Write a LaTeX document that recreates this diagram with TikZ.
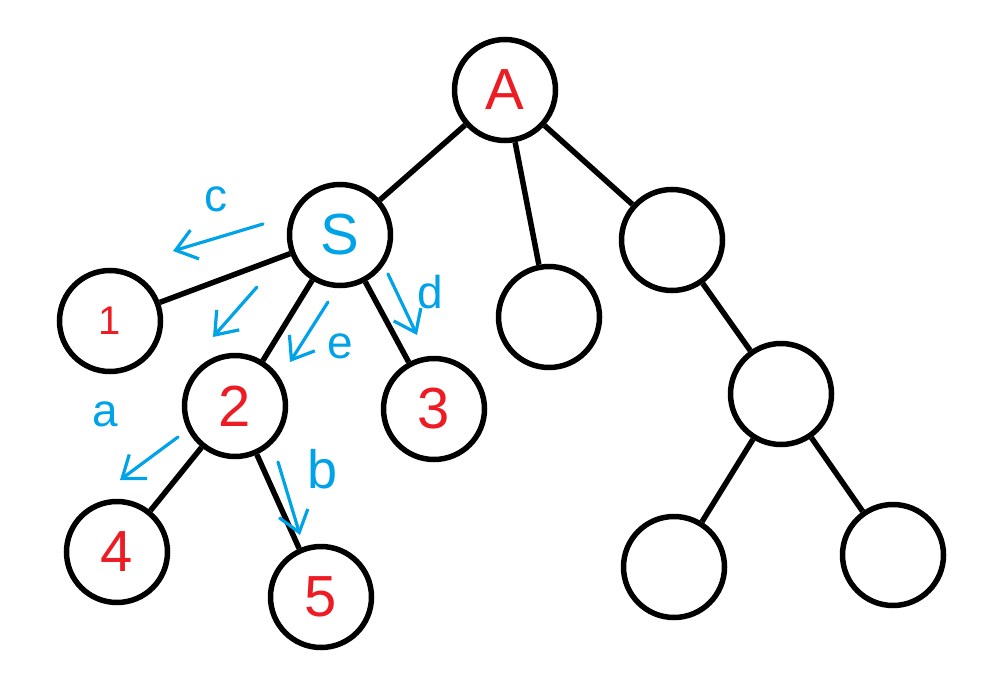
\documentclass[tikz,border=0pt]{standalone}
\usepackage{fontspec}
\setmainfont{Liberation Sans}
\usetikzlibrary{arrows.meta}
\definecolor{paintred}{HTML}{ED1C24}
\definecolor{paintblue}{HTML}{00A2E8}
\tikzset{
  vert/.style={circle, draw=black, line width=5.5pt, minimum size=101pt, inner sep=0pt,
    text=paintred, font=\fontsize{58}{58}\selectfont},
  edge/.style={draw=black, line width=5.5pt},
  note/.style={draw=paintblue, line width=3.2pt, line cap=round,
    -{Straight Barb[length=20pt,width=30pt,line width=3.2pt]}},
  notelabel/.style={text=paintblue, inner sep=0pt, font=\fontsize{46}{46}\selectfont}
}
\begin{document}
\begin{tikzpicture}[x=1pt,y=-1pt]
\useasboundingbox (0,0) rectangle (1003,690);
% vertices
\node[vert] (A) at (505,90) {A};
\node[vert, text=paintblue] (S) at (340,235) {S};
\node[vert] (M) at (549,317) {};
\node[vert] (R) at (672,240) {};
\node[vert, font=\fontsize{40}{40}\selectfont] (n1) at (110,321) {1};
\node[vert] (n2) at (235,406) {2};
\node[vert] (n3) at (434,409) {3};
\node[vert] (n4) at (117,552) {4};
\node[vert] (n5) at (321,597) {5};
\node[vert] (RR) at (781,394) {};
\node[vert] (BL) at (674,567) {};
\node[vert] (BR) at (893,555) {};
% edges
\draw[edge] (A) -- (S);
\draw[edge] (A) -- (M);
\draw[edge] (A) -- (R);
\draw[edge] (S) -- (n1);
\draw[edge] (S) -- (n2);
\draw[edge] (S) -- (n3);
\draw[edge] (n2) -- (n4);
\draw[edge] (n2) -- (n5);
\draw[edge] (R) -- (RR);
\draw[edge] (RR) -- (BL);
\draw[edge] (RR) -- (BR);
% blue annotation arrows
\coordinate (cs) at (263,224); \coordinate (ct) at (173,251);
\coordinate (us) at (257,287); \coordinate (ut) at (213,337);
\coordinate (es) at (328,302); \coordinate (et) at (290,362);
\coordinate (ds) at (388,274); \coordinate (dt) at (417,335);
\coordinate (as) at (178,437); \coordinate (at2) at (120,480);
\coordinate (bs) at (278,462); \coordinate (bt) at (300,535);
\draw[note] (cs) -- (ct);
\draw[note] (us) -- (ut);
\draw[note] (es) -- (et);
\draw[note] (ds) -- (dt);
\draw[note] (as) -- (at2);
\draw[note] (bs) -- (bt);
% labels
\node[notelabel] (lc) at (216,199) {c};
\node[notelabel] (ld) at (430,292) {d};
\node[notelabel] (le) at (340,346) {e};
\node[notelabel] (la) at (105,414) {a};
\node[notelabel, font=\fontsize{54}{54}\selectfont] (lb) at (323,469) {b};
\end{tikzpicture}
\end{document}
